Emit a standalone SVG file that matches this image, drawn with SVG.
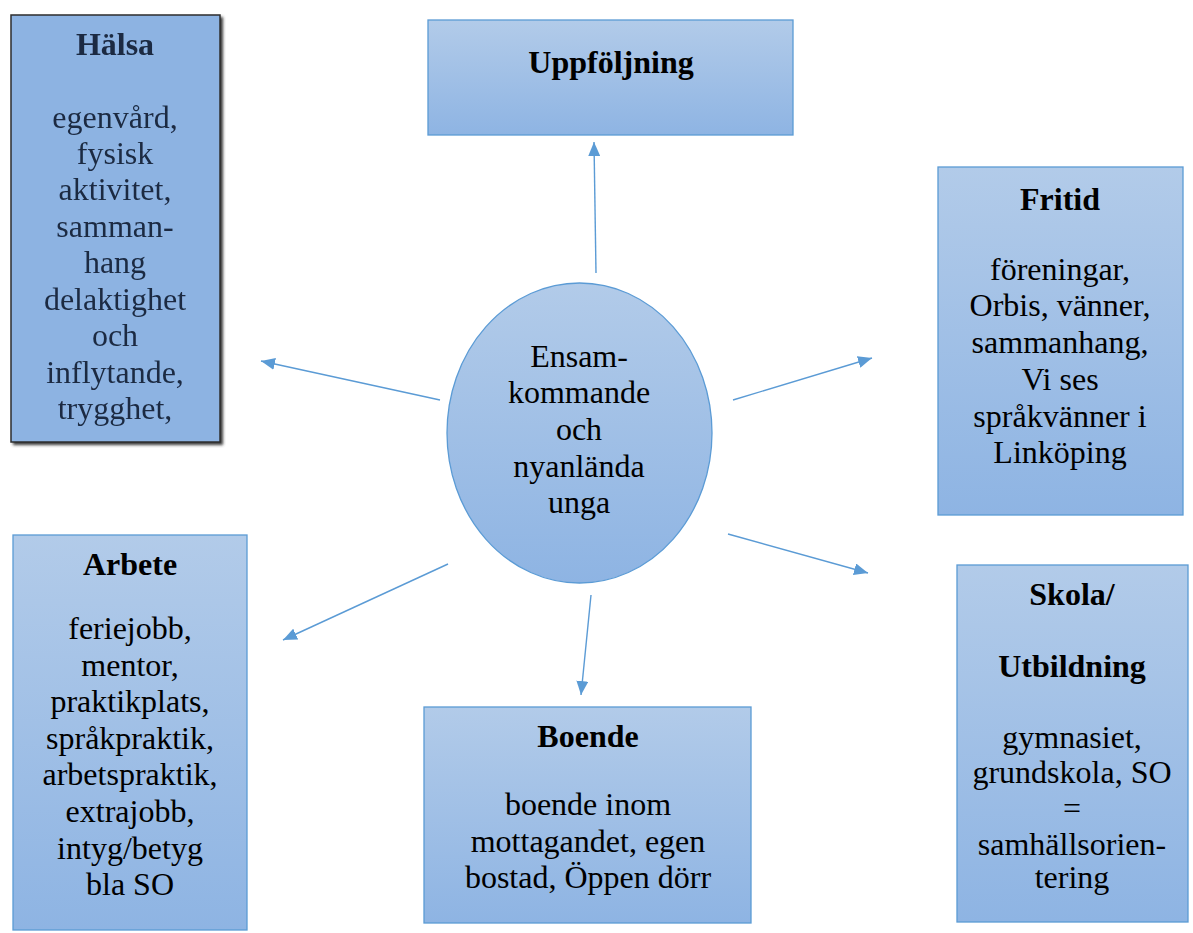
<svg xmlns="http://www.w3.org/2000/svg" width="1193" height="933" viewBox="0 0 1193 933">
<style>
.box{fill:url(#g);stroke:#5b9bd5;stroke-width:1.3}
text{font-family:"Times New Roman",Times,Tinos,"Liberation Serif","Noto Serif","DejaVu Serif",serif;font-size:32px;fill:#000;text-anchor:middle}
.b{font-weight:bold}
.h text{fill:#1b2a42}
.c{stroke:#5b9bd5;stroke-width:1.4;fill:none;marker-end:url(#ah)}
</style>
<defs>
<linearGradient id="g" x1="0" y1="0" x2="0" y2="1">
<stop offset="0" stop-color="#b2cbe9"/>
<stop offset="1" stop-color="#8eb4e3"/>
</linearGradient>
<filter id="sh" x="-10%" y="-10%" width="130%" height="130%"><feGaussianBlur stdDeviation="1.5"/></filter>
<filter id="bl"><feGaussianBlur stdDeviation="0.45"/></filter>
<marker id="ah" viewBox="0 0 14 12" refX="14" refY="6" markerWidth="14" markerHeight="12" markerUnits="userSpaceOnUse" orient="auto">
<path d="M0,0 L14,6 L0,12 Z" fill="#5b9bd5"/>
</marker>
</defs>

<g id="connectors">
<line class="c" x1="596" y1="273" x2="594" y2="142"/>
<line class="c" x1="440" y1="400" x2="261" y2="361"/>
<line class="c" x1="448" y1="564" x2="283" y2="640"/>
<line class="c" x1="733" y1="400" x2="872" y2="358"/>
<line class="c" x1="728" y1="534" x2="868" y2="573"/>
<line class="c" x1="591" y1="595" x2="581" y2="695"/>
</g>

<g id="halsa" class="h">
<rect x="13" y="17" width="210" height="428" fill="#3a3a3a" filter="url(#sh)"/>
<rect x="11" y="15" width="209" height="427" fill="#8db3e2" stroke="#2e2e2e" stroke-width="1.5"/>
<g filter="url(#bl)">
<text x="115" y="55" class="b">Hälsa</text>
<text x="115" y="128">egenvård,</text>
<text x="115" y="164">fysisk</text>
<text x="115" y="200">aktivitet,</text>
<text x="115" y="237">samman-</text>
<text x="115" y="273">hang</text>
<text x="115" y="310">delaktighet</text>
<text x="115" y="346">och</text>
<text x="115" y="383">inflytande,</text>
<text x="115" y="419">trygghet,</text>
</g>
</g>

<g id="uppfoljning">
<rect class="box" x="428" y="20" width="365" height="115"/>
<text x="611" y="73" class="b">Uppföljning</text>
</g>

<g id="fritid">
<rect class="box" x="938" y="167" width="245" height="348"/>
<text x="1060" y="210" class="b">Fritid</text>
<text x="1060" y="280">föreningar,</text>
<text x="1060" y="316">Orbis, vänner,</text>
<text x="1060" y="353">sammanhang,</text>
<text x="1060" y="390">Vi ses</text>
<text x="1060" y="427">språkvänner i</text>
<text x="1060" y="463">Linköping</text>
</g>

<g id="center">
<ellipse cx="579.5" cy="433" rx="132.5" ry="150" fill="url(#g)" stroke="#5b9bd5" stroke-width="1.3"/>
<text x="579" y="367">Ensam-</text>
<text x="579" y="403">kommande</text>
<text x="579" y="440">och</text>
<text x="579" y="477">nyanlända</text>
<text x="579" y="513">unga</text>
</g>

<g id="arbete">
<rect class="box" x="13" y="535" width="234" height="395"/>
<text x="130" y="575" class="b">Arbete</text>
<text x="130" y="639">feriejobb,</text>
<text x="130" y="676">mentor,</text>
<text x="130" y="712">praktikplats,</text>
<text x="130" y="749">språkpraktik,</text>
<text x="130" y="785">arbetspraktik,</text>
<text x="130" y="822">extrajobb,</text>
<text x="130" y="859">intyg/betyg</text>
<text x="130" y="895">bla SO</text>
</g>

<g id="boende">
<rect class="box" x="424" y="707" width="327" height="216"/>
<text x="588" y="747" class="b">Boende</text>
<text x="588" y="815">boende inom</text>
<text x="588" y="852">mottagandet, egen</text>
<text x="588" y="888">bostad, Öppen dörr</text>
</g>

<g id="skola">
<rect class="box" x="957" y="565" width="231" height="357"/>
<text x="1072" y="605" class="b">Skola/</text>
<text x="1072" y="677" class="b">Utbildning</text>
<text x="1072" y="748">gymnasiet,</text>
<text x="1072" y="783">grundskola, SO</text>
<text x="1072" y="819">=</text>
<text x="1072" y="855">samhällsorien-</text>
<text x="1072" y="888">tering</text>
</g>
</svg>
